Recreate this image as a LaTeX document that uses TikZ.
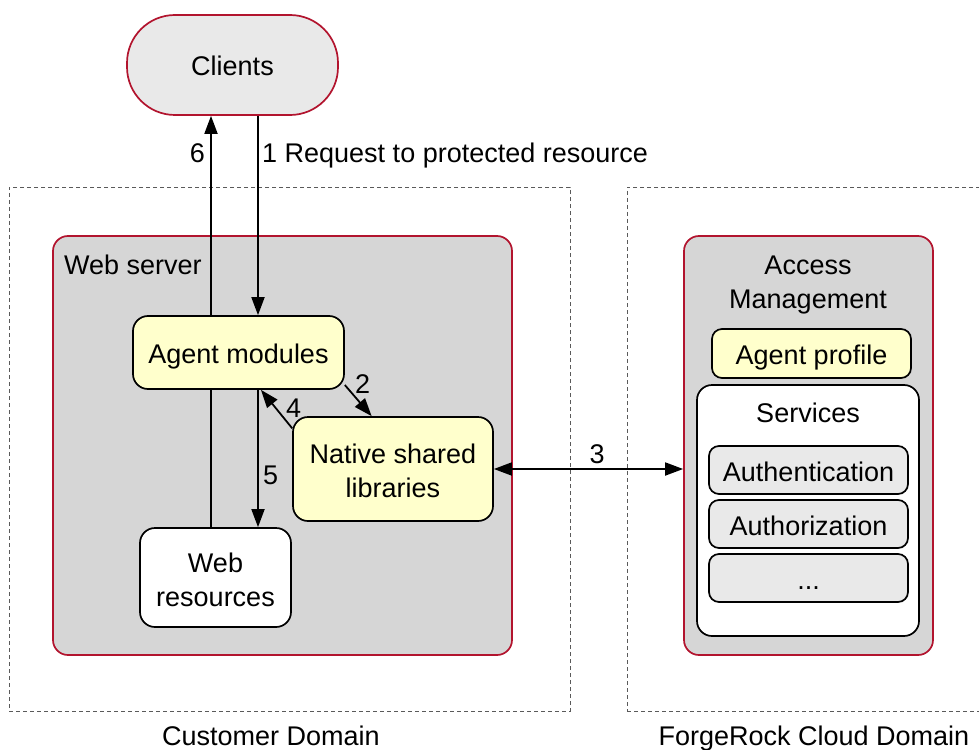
\documentclass[tikz,border=0pt]{standalone}
\usepackage{fontspec}
\setmainfont{Liberation Sans}
\usetikzlibrary{arrows.meta,calc}
\definecolor{frred}{RGB}{178,20,46}
\definecolor{srvgray}{RGB}{214,214,214}
\definecolor{lgray}{RGB}{233,233,233}
\definecolor{lyellow}{RGB}{255,255,204}
\definecolor{dashgray}{RGB}{90,90,90}
\newcommand{\lift}{\rule{0pt}{23.5pt}}
\pgfdeclarelayer{back}\pgfdeclarelayer{mid}
\pgfsetlayers{back,mid,main}
\begin{document}
\begin{tikzpicture}[x=1pt,y=-1pt,
  font=\fontsize{27pt}{34pt}\selectfont,
  box/.style={draw=black, line width=1.7pt, rounded corners=15pt, inner sep=0pt, align=center},
  oneline/.style={text height=22pt, text depth=0pt},
  redbox/.style={draw=frred, line width=1.7pt, rounded corners=15pt, fill=srvgray, inner sep=0pt},
  domainbox/.style={draw=dashgray, line width=0.9pt, dash pattern=on 4pt off 3pt, inner sep=0pt},
  arr/.style={line width=1.8pt, -{Triangle[length=18pt,width=13pt]}},
  darr/.style={line width=1.8pt, {Triangle[length=18pt,width=13pt]}-{Triangle[length=18pt,width=13pt]}},
  lbl/.style={inner sep=0pt}]
\clip (0,0) rectangle (979,749);

% domains
\begin{pgfonlayer}{back}
\node[domainbox, minimum width=561pt, minimum height=524pt] (cust) at (289.5,449) {};
\node[domainbox, minimum width=380pt, minimum height=524pt] (cloud) at (817,449) {};
\node[redbox, minimum width=459pt, minimum height=419pt] (ws) at (282.5,445.5) {};
\node[redbox, minimum width=249pt, minimum height=419pt] (am) at (808.5,445.5) {};
\end{pgfonlayer}

\node[lbl, anchor=base] (custlbl) at (271,745) {Customer Domain};
\node[lbl, anchor=base] (cloudlbl) at (814,745) {ForgeRock Cloud Domain};
\node[lbl, anchor=base west] (wslbl) at (64,274) {Web server};
\node[lbl, anchor=base] (amlbl1) at (808,274) {Access};
\node[lbl, anchor=base] (amlbl2) at (808,308) {Management};

% nodes
\node[box, oneline, draw=frred, fill=lgray, rounded corners=48pt, minimum width=211pt, minimum height=100pt] (clients) at (232.5,65) {Clients};
\node[box, oneline, fill=lyellow, minimum width=211pt, minimum height=73pt] (agent) at (238.5,352.5) {Agent modules};
\node[box, fill=lyellow, minimum width=200pt, minimum height=104pt] (native) at (393,469) {\lift Native shared\\libraries};
\node[box, fill=white, minimum width=151pt, minimum height=99pt] (webres) at (215.5,577.5) {\lift Web\\resources};

\node[box, oneline, fill=lyellow, rounded corners=10pt, minimum width=199pt, minimum height=49pt] (profile) at (811.5,353.5) {Agent profile};
\node[box, fill=white, minimum width=222pt, minimum height=251pt] (services) at (808,510.5) {};
\node[lbl, anchor=base] (srvlbl) at (808,422) {Services};
\node[box, oneline, fill=lgray, rounded corners=10pt, minimum width=199pt, minimum height=48pt] (authn) at (808.5,470) {Authentication};
\node[box, oneline, fill=lgray, rounded corners=10pt, minimum width=199pt, minimum height=48pt] (authz) at (808.5,524) {Authorization};
\node[box, oneline, fill=lgray, rounded corners=10pt, minimum width=199pt, minimum height=48pt] (more) at (808.5,578) {...};

% connectors
\coordinate (xa) at (258,0);
\coordinate (xb) at (211,0);
\begin{pgfonlayer}{mid}
\draw[arr] (webres.north -| xb) -- (clients.south -| xb);
\end{pgfonlayer}
\draw[arr] (clients.south -| xa) -- (agent.north -| xa);
\draw[arr] (agent.south -| xa) -- (webres.north -| xa);
\draw[arr] (agent.-17) -- (native.112);
\draw[arr] (native.158) -- (agent.-59.5);
\draw[darr] (native.east) -- (native.east -| am.west);

% labels
\node[lbl, anchor=base east] (l6) at (205,162) {6};
\node[lbl, anchor=base west] (l1) at (262,162) {1 Request to protected resource};
\node[lbl, anchor=base west] (l2) at (355,393) {2};
\node[lbl, anchor=base west] (l4) at (286,417) {4};
\node[lbl, anchor=base west] (l5) at (263,484) {5};
\node[lbl, anchor=base] (l3) at (597,463) {3};
\end{tikzpicture}
\end{document}
